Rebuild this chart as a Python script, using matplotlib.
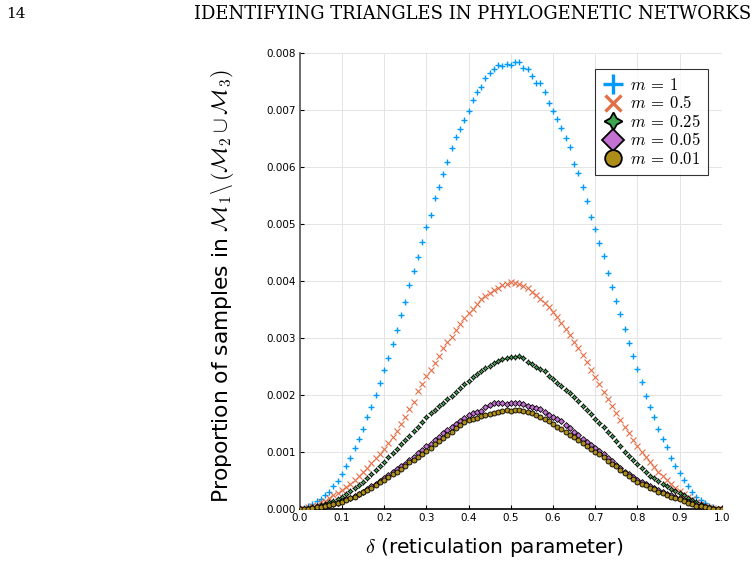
import matplotlib
matplotlib.use("Agg")
import matplotlib.pyplot as plt
from matplotlib.lines import Line2D
import numpy as np

# reticulation parameter grid, 0.00 .. 1.00 in steps of 0.01
delta = np.round(np.arange(0, 101) * 0.01, 2)

# proportions, in units of 1e-3
m1 = [
    0.00, 0.02, 0.05, 0.09, 0.14, 0.18, 0.24, 0.31, 0.41, 0.50,
    0.62, 0.75, 0.89, 1.07, 1.23, 1.40, 1.62, 1.80, 2.00, 2.22,
    2.45, 2.65, 2.90, 3.14, 3.41, 3.64, 3.94, 4.18, 4.43, 4.68,
    4.95, 5.16, 5.46, 5.65, 5.88, 6.09, 6.34, 6.53, 6.68, 6.83,
    6.99, 7.18, 7.32, 7.41, 7.57, 7.66, 7.72, 7.80, 7.78, 7.81,
    7.80, 7.84, 7.84, 7.74, 7.73, 7.61, 7.48, 7.47, 7.32, 7.12,
    6.99, 6.85, 6.69, 6.52, 6.36, 6.05, 5.90, 5.65, 5.41, 5.13,
    4.91, 4.67, 4.44, 4.15, 3.90, 3.65, 3.42, 3.16, 2.91, 2.68,
    2.46, 2.24, 1.99, 1.80, 1.61, 1.40, 1.23, 1.09, 0.89, 0.75,
    0.63, 0.51, 0.40, 0.31, 0.22, 0.16, 0.10, 0.06, 0.03, 0.01,
    0.00,
]
m05 = [
    0.00, 0.01, 0.03, 0.05, 0.08, 0.12, 0.15, 0.19, 0.24, 0.28,
    0.33, 0.39, 0.45, 0.52, 0.59, 0.65, 0.73, 0.81, 0.89, 0.97,
    1.05, 1.16, 1.27, 1.38, 1.49, 1.62, 1.75, 1.88, 2.08, 2.20,
    2.33, 2.44, 2.56, 2.69, 2.82, 2.93, 3.03, 3.14, 3.25, 3.35,
    3.44, 3.52, 3.60, 3.68, 3.74, 3.79, 3.84, 3.88, 3.93, 3.96,
    3.98, 3.97, 3.95, 3.92, 3.88, 3.81, 3.75, 3.68, 3.62, 3.55,
    3.46, 3.37, 3.27, 3.16, 3.06, 2.94, 2.82, 2.71, 2.58, 2.44,
    2.32, 2.19, 2.06, 1.94, 1.81, 1.69, 1.57, 1.45, 1.33, 1.22,
    1.11, 1.01, 0.92, 0.83, 0.74, 0.66, 0.58, 0.51, 0.45, 0.38,
    0.32, 0.27, 0.21, 0.17, 0.13, 0.09, 0.06, 0.04, 0.02, 0.01,
    0.00,
]
m025 = [
    0.00, 0.01, 0.02, 0.03, 0.05, 0.07, 0.09, 0.12, 0.15, 0.18,
    0.22, 0.27, 0.32, 0.37, 0.42, 0.47, 0.54, 0.62, 0.69, 0.76,
    0.83, 0.91, 0.98, 1.06, 1.14, 1.21, 1.29, 1.37, 1.44, 1.53,
    1.61, 1.68, 1.74, 1.81, 1.87, 1.93, 1.99, 2.05, 2.12, 2.19,
    2.25, 2.32, 2.38, 2.43, 2.48, 2.52, 2.56, 2.60, 2.63, 2.66,
    2.67, 2.67, 2.68, 2.65, 2.59, 2.54, 2.49, 2.46, 2.42, 2.34,
    2.28, 2.22, 2.16, 2.10, 2.03, 1.96, 1.89, 1.81, 1.74, 1.67,
    1.59, 1.52, 1.44, 1.36, 1.28, 1.20, 1.10, 1.01, 0.93, 0.86,
    0.79, 0.72, 0.65, 0.59, 0.54, 0.49, 0.44, 0.40, 0.36, 0.32,
    0.28, 0.24, 0.20, 0.16, 0.12, 0.09, 0.06, 0.04, 0.02, 0.01,
    0.00,
]
m005 = [
    0.00, 0.00, 0.01, 0.02, 0.03, 0.04, 0.06, 0.07, 0.09, 0.11,
    0.14, 0.17, 0.20, 0.23, 0.27, 0.31, 0.35, 0.40, 0.45, 0.50,
    0.55, 0.60, 0.65, 0.70, 0.75, 0.80, 0.86, 0.92, 0.98, 1.04,
    1.10, 1.15, 1.22, 1.27, 1.33, 1.39, 1.44, 1.49, 1.55, 1.60,
    1.65, 1.68, 1.71, 1.72, 1.79, 1.82, 1.86, 1.86, 1.86, 1.85,
    1.86, 1.87, 1.86, 1.84, 1.81, 1.80, 1.78, 1.76, 1.70, 1.65,
    1.62, 1.59, 1.55, 1.48, 1.42, 1.36, 1.30, 1.23, 1.18, 1.12,
    1.07, 1.02, 0.96, 0.90, 0.84, 0.78, 0.72, 0.66, 0.61, 0.56,
    0.51, 0.48, 0.45, 0.41, 0.37, 0.34, 0.30, 0.27, 0.24, 0.22,
    0.19, 0.16, 0.13, 0.10, 0.08, 0.06, 0.04, 0.02, 0.01, 0.00,
    0.00,
]
m001 = [
    0.00, 0.00, 0.01, 0.02, 0.03, 0.04, 0.05, 0.07, 0.09, 0.11,
    0.13, 0.16, 0.19, 0.22, 0.26, 0.30, 0.34, 0.38, 0.42, 0.47,
    0.51, 0.56, 0.61, 0.66, 0.71, 0.76, 0.82, 0.87, 0.92, 0.97,
    1.02, 1.08, 1.14, 1.19, 1.25, 1.30, 1.36, 1.42, 1.48, 1.53,
    1.57, 1.58, 1.60, 1.63, 1.65, 1.67, 1.69, 1.71, 1.72, 1.74,
    1.73, 1.74, 1.74, 1.73, 1.70, 1.68, 1.65, 1.62, 1.59, 1.55,
    1.50, 1.45, 1.40, 1.36, 1.31, 1.26, 1.21, 1.16, 1.11, 1.06,
    1.01, 0.96, 0.91, 0.85, 0.80, 0.75, 0.69, 0.64, 0.58, 0.53,
    0.48, 0.45, 0.42, 0.38, 0.35, 0.31, 0.28, 0.25, 0.22, 0.19,
    0.17, 0.14, 0.11, 0.09, 0.06, 0.05, 0.03, 0.02, 0.01, 0.00,
    0.00,
]

labels = [r"$m\:=\:1$", r"$m\:=\:0.5$", r"$m\:=\:0.25$", r"$m\:=\:0.05$", r"$m\:=\:0.01$"]
x_ticks = [0.0, 0.1, 0.2, 0.3, 0.4, 0.5, 0.6, 0.7, 0.8, 0.9, 1.0]
y_ticks = [0.000, 0.001, 0.002, 0.003, 0.004, 0.005, 0.006, 0.007, 0.008]

plt.rcParams["mathtext.fontset"] = "cm"
plt.rcParams["font.family"] = "DejaVu Sans"

# marker style per series: (marker, face, edge, size, edge width)
styles = [
    ("+", "#009AFA", "#009AFA", 4.8, 1.0),
    ("x", "#E36F47", "#E36F47", 4.0, 0.8),
    ((4, 1, 0), "#3EA44E", "black", 4.0, 0.6),
    ("D", "#C371D2", "black", 3.0, 0.6),
    ("o", "#AC8D18", "black", 3.6, 0.6),
]
# bigger marker sizes shown in the legend
legend_sizes = [14, 12, 13, 11, 12]

fig = plt.figure(figsize=(7.55, 5.67), dpi=100)
ax = fig.add_axes([0.397, 0.102, 0.559, 0.804])

series = [m1, m05, m025, m005, m001]
for vals, (mk, fc, ec, ms, mew) in zip(series, styles):
    ax.plot(delta, np.array(vals) * 1e-3, linestyle="none", marker=mk,
            markerfacecolor=fc, markeredgecolor=ec, markersize=ms,
            markeredgewidth=mew, zorder=3)

ax.set_xlim(0, 1)
ax.set_ylim(0, 0.008)
ax.set_xticks(x_ticks)
ax.set_yticks(y_ticks)
ax.set_xticklabels([f"{t:.1f}" for t in x_ticks])
ax.set_yticklabels([f"{t:.3f}" for t in y_ticks])
ax.tick_params(direction="in", length=3, width=0.8, labelsize=7.5, pad=3)
ax.grid(True, color="#e4e4e4", linewidth=0.7)
ax.set_axisbelow(True)
for side in ["top", "right"]:
    ax.spines[side].set_visible(False)
ax.spines["left"].set_color("#555555")
ax.spines["left"].set_linewidth(1.2)
ax.spines["bottom"].set_linewidth(1.2)

ax.set_xlabel(r"$\delta$ (reticulation parameter)", fontsize=14.5)
ax.xaxis.set_label_coords(0.46, -0.058)
ax.set_ylabel(r"Proportion of samples in $\mathcal{M}_1 \backslash\, (\mathcal{M}_2 \cup \mathcal{M}_3)$",
              fontsize=15.7)
ax.yaxis.set_label_coords(-0.15, 0.49)

handles = []
for (mk, fc, ec, ms, mew), lab, bs in zip(styles, labels, legend_sizes):
    handles.append(Line2D([], [], linestyle="none", marker=mk, markerfacecolor=fc,
                          markeredgecolor=ec, markersize=bs,
                          markeredgewidth=2.4 if mk in ("+", "x") else 1.3,
                          label=lab))
leg = ax.legend(handles=handles, loc="upper right", bbox_to_anchor=(0.967, 0.965),
                fontsize=12, frameon=True, fancybox=False, borderpad=0.4,
                handletextpad=0.4, labelspacing=0.03, handlelength=1.3,
                borderaxespad=0)
leg.get_frame().set_edgecolor("black")
leg.get_frame().set_linewidth(0.8)

fig.text(0.008, 0.975, "14", fontsize=11, family="DejaVu Serif", va="center", ha="left")
fig.text(0.995, 0.975, "IDENTIFYING TRIANGLES IN PHYLOGENETIC NETWORKS",
         fontsize=13, family="DejaVu Serif", va="center", ha="right")

fig.savefig("out.png", dpi=100)
